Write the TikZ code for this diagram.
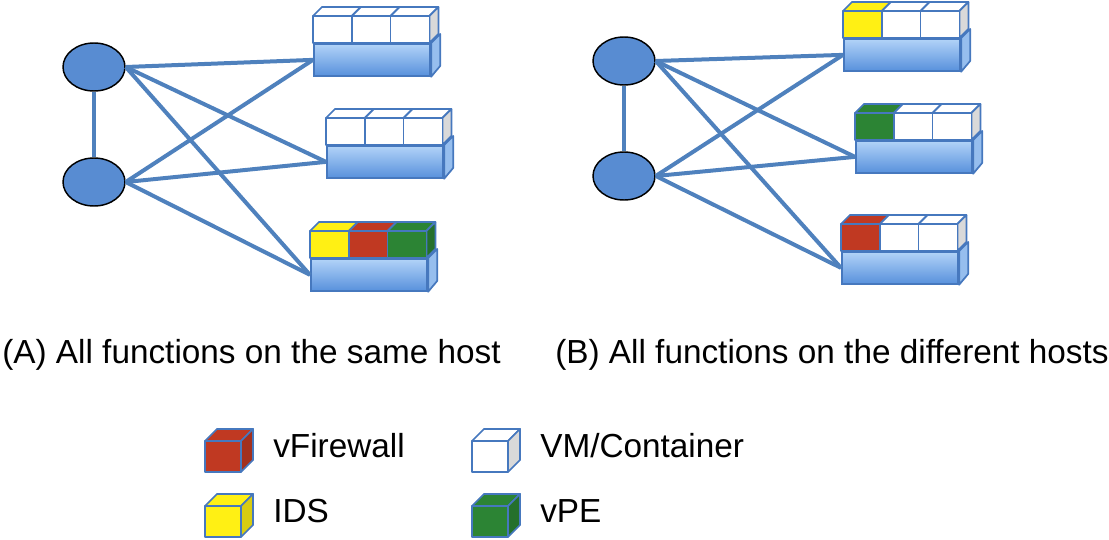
\documentclass[tikz,border=0pt]{standalone}
\usepackage{fontspec}
\setmainfont{Liberation Sans}
\usetikzlibrary{shapes.geometric}

\definecolor{vm}{RGB}{255,255,255}
\definecolor{fw}{RGB}{192,57,34}
\definecolor{ids}{RGB}{255,240,20}
\definecolor{pe}{RGB}{44,132,52}
\definecolor{boxblue}{RGB}{70,120,190}
\definecolor{linkblue}{RGB}{79,129,189}
\definecolor{routerblue}{RGB}{88,140,210}
\definecolor{baselight}{RGB}{178,211,248}
\definecolor{basedark}{RGB}{88,145,220}
\definecolor{baseside}{RGB}{150,190,238}

% box sizes (front width, front height, depth)
\def\cw{38.8}
\def\ch{27}
\def\cd{9}

% one box: top, right side, front
\newcommand{\vcube}[3]{%
    \filldraw[boxline,fill=#3] (#1,#2) -- ++(\cd,-\cd) -- ++(\cw,0)
        -- ++(-\cd,\cd) -- cycle;
    \filldraw[boxline,fill=#3!85!black] (#1+\cw,#2) -- ++(\cd,-\cd)
        -- ++(0,\ch) -- ++(-\cd,\cd) -- cycle;
    \filldraw[boxline,fill=#3] (#1,#2) rectangle ++(\cw,\ch);
}

% host: name, front top-left corner of the boxes, the three boxes
\newcommand{\host}[4]{%
    \foreach \k [count=\i from 0] in {#4}{
        \vcube{#2+\i*\cw}{#3}{\k}
    }
    \node[hostbase,anchor=north west] (#1) at (#2,#3+\ch) {};
    \filldraw[boxline,fill=baseside] (#1.north east) -- ++(\cd,-\cd)
        -- ++(0,32) -- (#1.south east) -- cycle;
}

\begin{document}
\begin{tikzpicture}[
    x=0.75pt, y=-0.75pt,
    router/.style={
        ellipse,
        draw=black,
        line width=1.1pt,
        fill=routerblue,
        minimum width=46.5pt,
        minimum height=36pt,
        inner sep=0pt
    },
    boxline/.style={draw=boxblue,line width=1.3pt,line join=round},
    hostbase/.style={
        draw=boxblue,
        line width=1.3pt,
        top color=baselight,
        bottom color=basedark,
        minimum width=87.3pt,
        minimum height=24pt,
        inner sep=0pt
    },
    link/.style={draw=linkblue,line width=3pt},
    label/.style={font=\fontsize{25}{30}\selectfont,inner sep=0pt}
]
\useasboundingbox (0,0) rectangle (1109,539);

% (A) one host carries everything
\node[router] (rA1) at (94,67) {};
\node[router] (rA2) at (94,182) {};
\host{hA1}{313}{16}{vm,vm,vm}
\host{hA2}{326}{118}{vm,vm,vm}
\host{hA3}{310}{231}{ids,fw,pe}

% (B) one function per host
\node[router] (rB1) at (624,61) {};
\node[router] (rB2) at (624,176) {};
\host{hB1}{843}{11}{ids,vm,vm}
\host{hB2}{855}{113}{pe,vm,vm}
\host{hB3}{841}{224}{fw,vm,vm}

\foreach \s in {A,B}{
    \draw[link] (r\s1) -- (r\s2);
    \foreach \r in {1,2}
        \foreach \h in {1,2,3}
            \draw[link] (r\s\r.east) -- (h\s\h.west);
}

\node[label,anchor=base west] (capA) at (2,363)
    {(A) All functions on the same host};
\node[label,anchor=base west] (capB) at (555,363)
    {(B) All functions on the different hosts};

% legend
\def\cw{36}
\def\ch{31}
\def\cd{12}
\foreach \x/\y/\k/\txt in {
    205/441/fw/vFirewall,
    205/506/ids/IDS,
    472/441/vm/VM\slash Container,
    472/506/pe/vPE
}{
    \vcube{\x}{\y}{\k}
    \node[label,anchor=base west] (key-\k) at (\x+68,\y+16) {\txt};
}
\end{tikzpicture}
\end{document}
